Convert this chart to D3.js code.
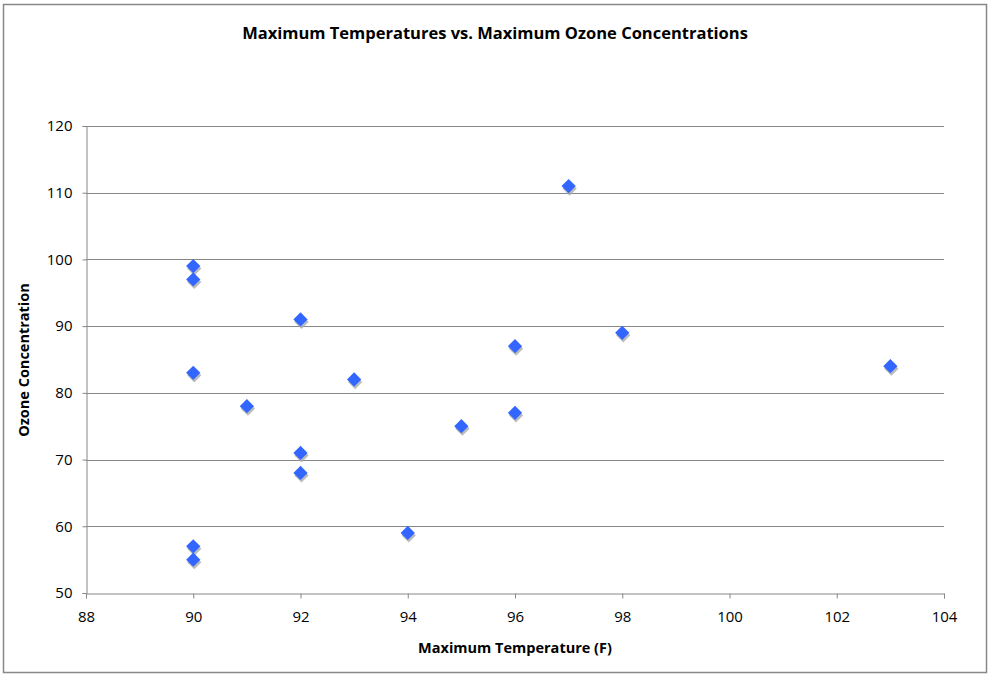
<!DOCTYPE html>
<html>
<head>
<meta charset="utf-8">
<script src="https://cdn.jsdelivr.net/npm/d3@7"></script>
<style>
  body { margin: 0; background: #fff; }
  text { font-family: "Open Sans", "Liberation Sans", sans-serif; }
</style>
</head>
<body>
<script>
// max temperature (F) and max ozone readings
var temps = [90, 90, 90, 90, 90, 91, 92, 92, 92, 93, 94, 95, 96, 96, 97, 98, 103];
var ozone = [99, 97, 83, 57, 55, 78, 91, 71, 68, 82, 59, 75, 87, 77, 111, 89, 84];
var xTicks = [88, 90, 92, 94, 96, 98, 100, 102, 104];
var yTicks = [50, 60, 70, 80, 90, 100, 110, 120];

const w = 990;
const h = 676;
const plotLeft = 86, plotRight = 944, plotTop = 126, plotBottom = 593;

const svg = d3.select("body")
    .append("svg")
    .attr("width", w)
    .attr("height", h);

// outer frame
svg.append("rect")
    .attr("x", 3.5).attr("y", 4.5)
    .attr("width", 983).attr("height", 668)
    .attr("fill", "#fff")
    .attr("stroke", "#888")
    .attr("stroke-width", 1.5);

const xScale = d3.scaleLinear().domain([88, 104]).range([plotLeft, plotRight]);
const yScale = d3.scaleLinear().domain([50, 120]).range([plotBottom, plotTop]);

// gridlines
svg.append("g")
    .selectAll("line")
    .data(yTicks.slice(1))
    .enter()
    .append("line")
    .attr("x1", plotLeft).attr("x2", plotRight)
    .attr("y1", d => Math.round(yScale(d)) + 0.5)
    .attr("y2", d => Math.round(yScale(d)) + 0.5)
    .attr("stroke", "#888")
    .attr("stroke-width", 1);

const yAxis = d3.axisLeft(yScale).tickValues(yTicks).tickSize(4).tickPadding(10);
const xAxis = d3.axisBottom(xScale).tickValues(xTicks).tickSize(5).tickPadding(10);

const gy = svg.append("g")
    .attr("transform", "translate(" + (plotLeft + 0.5) + ",0)")
    .call(yAxis);

const gx = svg.append("g")
    .attr("transform", "translate(0," + (plotBottom + 0.5) + ")")
    .call(xAxis);

[gx, gy].forEach(g => {
    g.selectAll("path, line").attr("stroke", "#888");
    g.selectAll("text")
        .attr("fill", "#000")
        .style("font-size", "15px");
});
gx.selectAll("text").attr("dy", "0.9em");

// markers: shadow then diamond
const diamond = d3.symbol().type(d3.symbolDiamond2).size(130);
const pts = temps.map((t, i) => [t, ozone[i]]);

svg.append("g")
    .selectAll("path")
    .data(pts)
    .enter()
    .append("path")
    .attr("d", diamond)
    .attr("transform", d => "translate(" + (xScale(d[0]) + 1) + "," + (yScale(d[1]) + 2.5) + ")")
    .attr("fill", "#aaa")
    .attr("opacity", 0.8);

svg.append("g")
    .selectAll("path")
    .data(pts)
    .enter()
    .append("path")
    .attr("d", diamond)
    .attr("transform", d => "translate(" + xScale(d[0]) + "," + yScale(d[1]) + ")")
    .attr("fill", "#3366ff");

// titles
svg.append("text")
    .attr("x", 495).attr("y", 39)
    .style("text-anchor", "middle")
    .style("font-weight", "bold")
    .style("font-size", "16.5px")
    .text("Maximum Temperatures vs. Maximum Ozone Concentrations");

svg.append("text")
    .attr("x", 515).attr("y", 653)
    .style("text-anchor", "middle")
    .style("font-weight", "bold")
    .style("font-size", "14.5px")
    .text("Maximum Temperature (F)");

svg.append("text")
    .attr("transform", "rotate(-90)")
    .attr("x", -360).attr("y", 29)
    .style("text-anchor", "middle")
    .style("font-weight", "bold")
    .style("font-size", "14.5px")
    .text("Ozone Concentration");
</script>
</body>
</html>
